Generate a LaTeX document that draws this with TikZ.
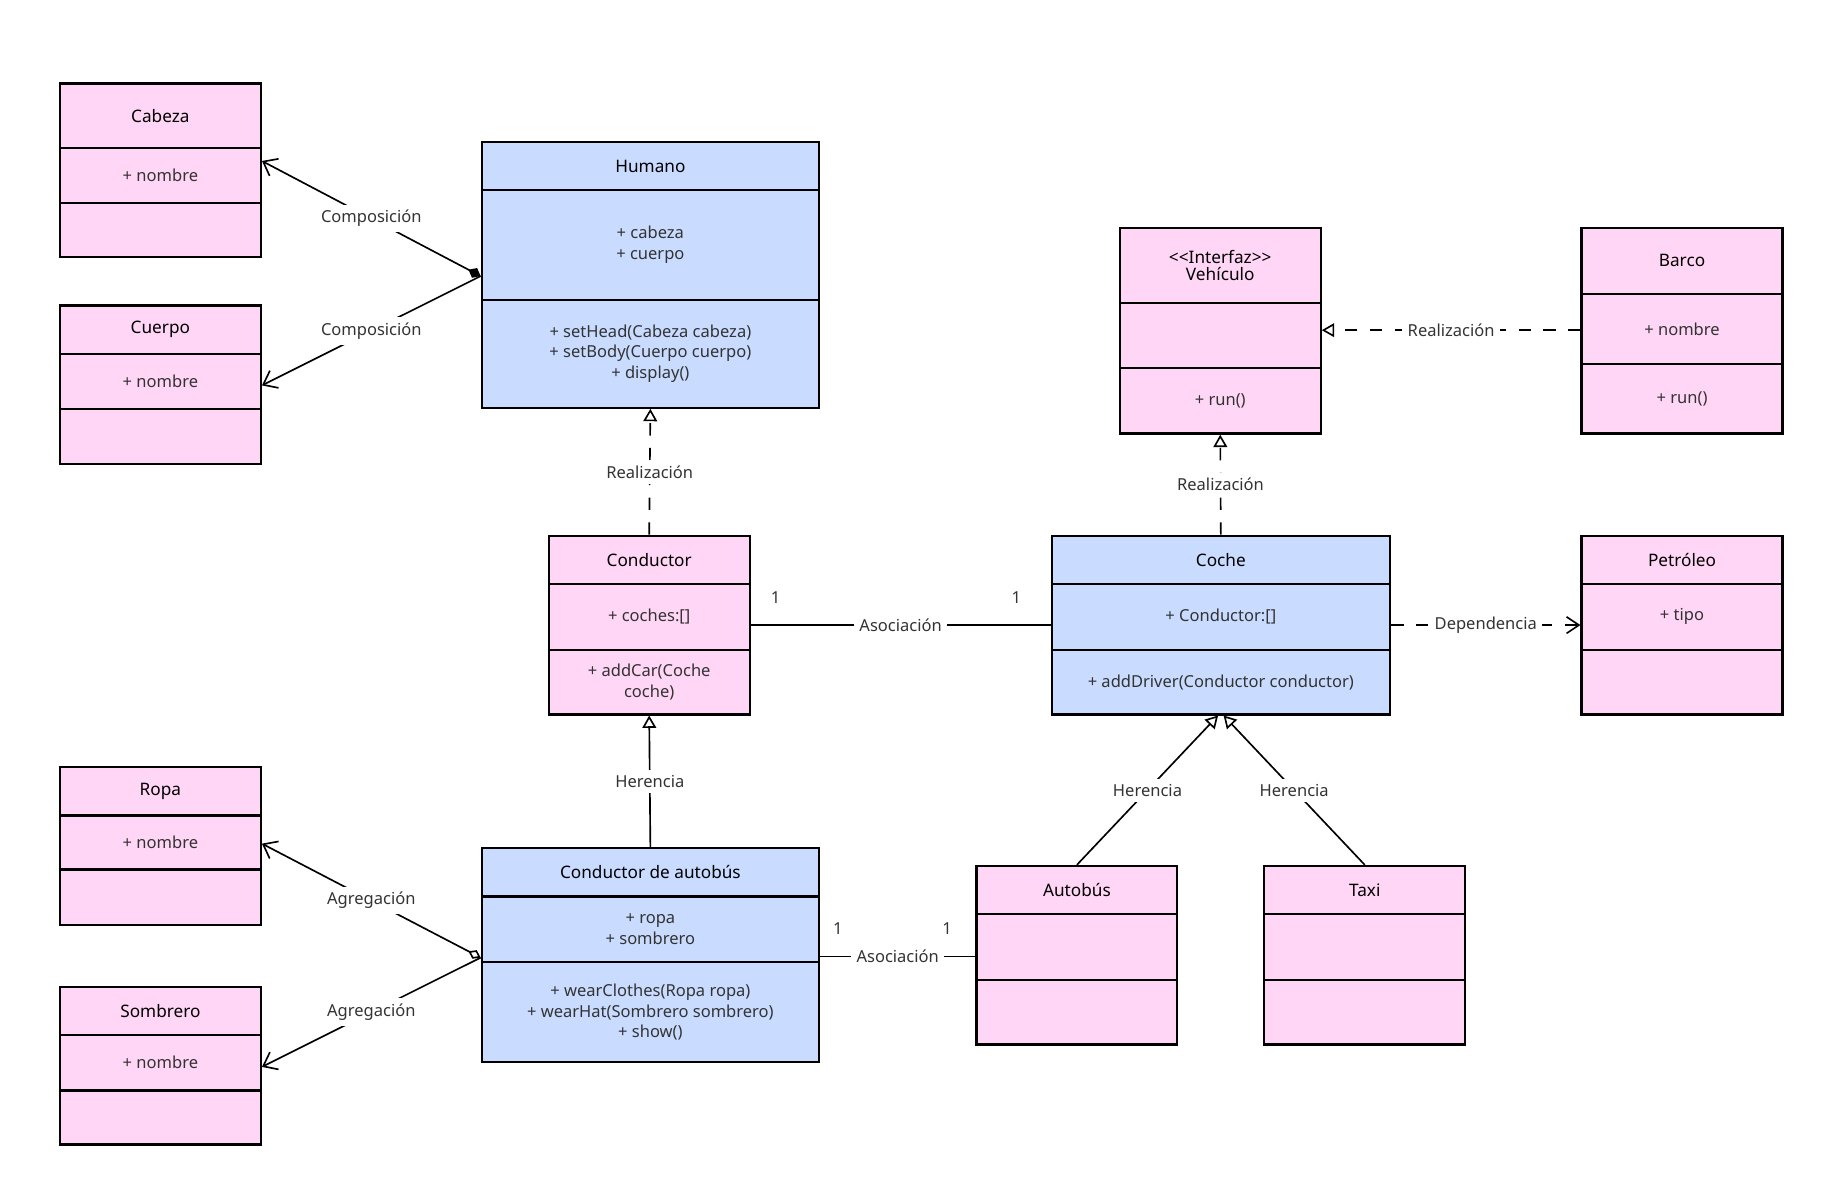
\documentclass[tikz,border=0pt]{standalone}
\usepackage{fontspec}
\setmainfont{Noto Sans}
\usetikzlibrary{arrows.meta,fit}

\definecolor{rosa}{HTML}{FFD6F6}
\definecolor{azul}{HTML}{C9DCFF}
\definecolor{gristexto}{HTML}{333333}

\tikzset{
  caja/.style={draw, line width=1.6pt, inner sep=0pt},
  titulo/.style={font=\fontsize{12.5}{15}\selectfont, text=black},
  texto/.style={font=\fontsize{12}{15}\selectfont, text=gristexto, align=center},
  etiqueta/.style={font=\fontsize{12}{14}\selectfont, text=gristexto, fill=white, inner sep=4pt},
  enlace/.style={line width=1.2pt},
  discontinua/.style={enlace, dash pattern=on 9pt off 9pt},
  flecha/.style={-{Straight Barb[open, length=9pt, width=12pt, line width=1.2pt]}},
  herencia/.style={-{Triangle[open, length=9pt, width=10pt, line width=1.2pt]}},
}

% caja UML: nombre, x1, y1, x2, y2, div1, div2, relleno, titulo
\newcommand{\clase}[9]{
  \node[caja, fill=#8, fit={(#2,#3)(#4,#5)}] (#1) {};
  \draw[line width=1.6pt] (#2,#6) -- (#4,#6) (#2,#7) -- (#4,#7);
  \node[titulo] (#1-t) at ({(#2+#4)/2},{(#3+#6)/2}) {#9};
}

\begin{document}
\begin{tikzpicture}[x=0.03cm, y=-0.03cm]
  \useasboundingbox (0,0) rectangle (1560,1020);

  % Paso 1: las clases
  \clase{cab}{51}{71}{222}{219}{126}{173}{rosa}{Cabeza}
  \node[texto] (cab-a) at (136.5,149.5) {+ nombre};
  \clase{cue}{51}{260}{222}{395}{301}{348}{rosa}{Cuerpo}
  \node[texto] (cue-a) at (136.5,324.5) {+ nombre};
  \clase{hum}{410}{121}{697}{347}{162}{255}{azul}{Humano}
  \node[texto] (hum-a) at (553.5,208.5) {+ cabeza\\+ cuerpo};
  \node[texto] (hum-m) at (553.5,301) {+ setHead(Cabeza cabeza)\\+ setBody(Cuerpo cuerpo)\\+ display()};
  \clase{con}{467}{456}{638}{608}{497}{553}{rosa}{Conductor}
  \node[texto] (con-a) at (552.5,525) {+ coches:[]};
  \node[texto] (con-m) at (552.5,580.5) {+ addCar(Coche\\coche)};
  \clase{veh}{953}{194}{1124}{369}{258}{313}{rosa}{\shortstack{{<}{<}Interfaz{>}{>}\\Vehículo}}
  \node[texto] (veh-m) at (1038.5,341) {+ run()};
  \clase{bar}{1346}{194}{1517}{369}{250}{310}{rosa}{Barco}
  \node[texto] (bar-a) at (1431.5,280) {+ nombre};
  \node[texto] (bar-m) at (1431.5,339.5) {+ run()};
  \clase{coc}{895}{456}{1183}{608}{497}{553}{azul}{Coche}
  \node[texto] (coc-a) at (1039,525) {+ Conductor:[]};
  \node[texto] (coc-m) at (1039,580.5) {+ addDriver(Conductor conductor)};
  \clase{pet}{1346}{456}{1517}{608}{497}{553}{rosa}{Petróleo}
  \node[texto] (pet-a) at (1431.5,525) {+ tipo};
  \clase{rop}{51}{653}{222}{787}{694}{740}{rosa}{Ropa}
  \node[texto] (rop-a) at (136.5,717) {+ nombre};
  \clase{som}{51}{840}{222}{974}{881}{928}{rosa}{Sombrero}
  \node[texto] (som-a) at (136.5,904.5) {+ nombre};
  \clase{cda}{410}{722}{697}{904}{763}{819}{azul}{Conductor de autobús}
  \node[texto] (cda-a) at (553.5,791) {+ ropa\\+ sombrero};
  \node[texto] (cda-m) at (553.5,861.5) {+ wearClothes(Ropa ropa)\\+ wearHat(Sombrero sombrero)\\+ show()};
  \clase{aut}{831}{737}{1002}{889}{778}{834}{rosa}{Autobús}
  \clase{tax}{1076}{737}{1247}{889}{778}{834}{rosa}{Taxi}

  % Paso 2: puntos de anclaje
  \coordinate (hum-c) at (hum.west |- 0,235);
  \coordinate (cda-g) at (cda.west |- 0,815);
  \coordinate (cab-e) at (cab.east |- 0,137);
  \coordinate (cue-e) at (cue.east |- 0,328);
  \coordinate (rop-e) at (rop.east |- 0,718);
  \coordinate (som-e) at (som.east |- 0,908);

  % Paso 3: composición y agregación
  \draw[enlace, {Diamond[length=10pt, width=8pt]}-{Straight Barb[length=9pt, width=14pt, line width=1.2pt]}]
    (hum-c) -- node[etiqueta] {Composición} (cab-e);
  \draw[enlace, -{Straight Barb[length=9pt, width=14pt, line width=1.2pt]}]
    (hum-c) -- node[etiqueta] {Composición} (cue-e);
  \draw[enlace, {Diamond[open, length=10pt, width=7pt, line width=1.2pt]}-{Straight Barb[length=9pt, width=14pt, line width=1.2pt]}]
    (cda-g) -- node[etiqueta] {Agregación} (rop-e);
  \draw[enlace, -{Straight Barb[length=9pt, width=14pt, line width=1.2pt]}]
    (cda-g) -- node[etiqueta] {Agregación} (som-e);

  % Paso 4: realización y herencia
  \draw[discontinua, herencia] (con.north) -- node[etiqueta] {Realización} (hum.south);
  \draw[discontinua, herencia] (coc.north) -- node[etiqueta] {Realización} (veh.south);
  \draw[discontinua, herencia] (bar.west |- 0,281) -- node[etiqueta] {Realización} (veh.east |- 0,281);
  \draw[enlace, herencia] (cda.north) -- node[etiqueta] {Herencia} (con.south);
  \draw[enlace, herencia] (aut.north) -- node[etiqueta] {Herencia} ([xshift=-2]coc.south);
  \draw[enlace, herencia] (tax.north) -- node[etiqueta] {Herencia} ([xshift=2]coc.south);

  % Paso 5: asociación y dependencia
  \draw[enlace] (con.east |- 0,532) -- node[etiqueta] {Asociación} (coc.west |- 0,532);
  \node[texto] (m1) at (660,509) {1};
  \node[texto] (m2) at (865,509) {1};
  \draw[discontinua, flecha] (coc.east |- 0,532) -- node[etiqueta] {Dependencia} (pet.west |- 0,532);
  \draw[enlace] (cda.east |- 0,814) -- node[etiqueta] {Asociación} (aut.west |- 0,814);
  \node[texto] (m3) at (713,790) {1};
  \node[texto] (m4) at (806,790) {1};
\end{tikzpicture}
\end{document}
